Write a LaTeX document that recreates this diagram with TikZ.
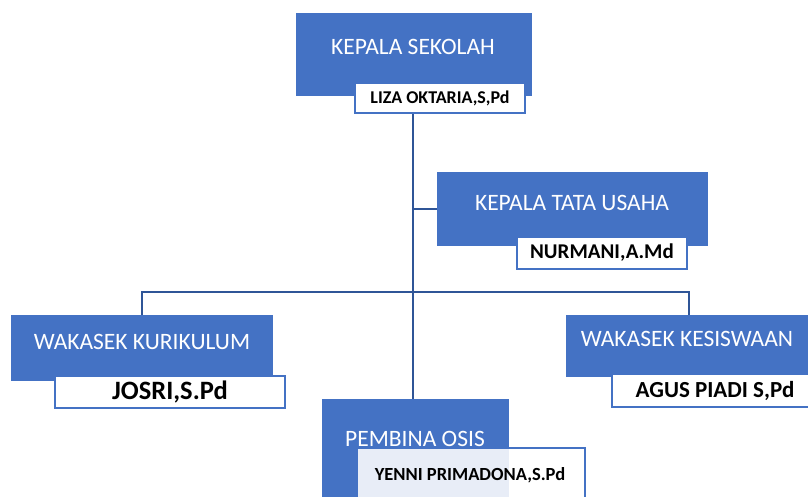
\documentclass[tikz,border=0pt]{standalone}
\usepackage{fontspec}
\setmainfont{Carlito}
\definecolor{boxblue}{HTML}{4472C4}
\definecolor{linkblue}{HTML}{2F5597}
\tikzset{
  bluebox/.style={draw=boxblue, fill=boxblue, line width=0.8pt, inner sep=0pt, outer sep=0pt},
  namebox/.style={draw=boxblue, fill=white, line width=1.5pt, inner sep=0pt, outer sep=0pt, text=black, font=\bfseries},
  titletext/.style={text=white, inner sep=0pt, font=\fontsize{23.5}{26}\selectfont},
  link/.style={draw=linkblue, line width=2pt}
}
\begin{document}
\begin{tikzpicture}[x=1pt,y=-1pt]
\clip (0,0) rectangle (808,496);
\fill[white] (0,0) rectangle (808,496);
% boxes (positions)
\node[bluebox, minimum width=235, minimum height=82] (ks) at (413.5,54) {};
\node[bluebox, minimum width=270, minimum height=73] (ktu) at (572,208.5) {};
\node[bluebox, minimum width=261, minimum height=65] (wk) at (141.5,347.5) {};
\node[bluebox, minimum width=246, minimum height=61] (wks) at (689,345.5) {};
% connectors
\coordinate (trunktop) at (413,113);
\coordinate (bar) at (413,292);
\node[bluebox, minimum width=186, minimum height=104] (po) at (415,451) {};
\draw[link] (trunktop) -- (trunktop |- po.north);
\draw[link] (trunktop |- ktu.west) -- (ktu.west);
\draw[link] (wk.north) |- (bar) -| (wks.north);
% titles
\node[titletext] (kst) at (413,47) {KEPALA SEKOLAH};
\node[titletext] (ktut) at (572,203) {KEPALA TATA USAHA};
\node[titletext] (wkt) at (142,342) {WAKASEK KURIKULUM};
\node[titletext] (wkst) at (687,339) {WAKASEK KESISWAAN};
\node[titletext] (pot) at (415,438.5) {PEMBINA OSIS};
% name boxes
\node[namebox, minimum width=170, minimum height=30, font=\bfseries\fontsize{18}{20}\selectfont] (ksn) at (440,98) {LIZA OKTARIA,S,Pd};
\node[namebox, minimum width=170, minimum height=32, font=\bfseries\fontsize{21}{23}\selectfont] (ktun) at (602,253) {NURMANI,A.Md};
\node[namebox, minimum width=230, minimum height=32, font=\bfseries\fontsize{26.5}{28}\selectfont] (wkn) at (170,392) {JOSRI,S.Pd};
\node[namebox, minimum width=206, minimum height=33, font=\bfseries\fontsize{23}{25}\selectfont] (wksn) at (715,390.5) {AGUS PIADI S,Pd};
\node[namebox, fill opacity=0.88, minimum width=228, minimum height=56] (pon) at (471,476) {};
\node[inner sep=0pt, text=black, font=\bfseries\fontsize{18.5}{20}\selectfont] (pont) at (470,475) {YENNI PRIMADONA,S.Pd};
\end{tikzpicture}
\end{document}
